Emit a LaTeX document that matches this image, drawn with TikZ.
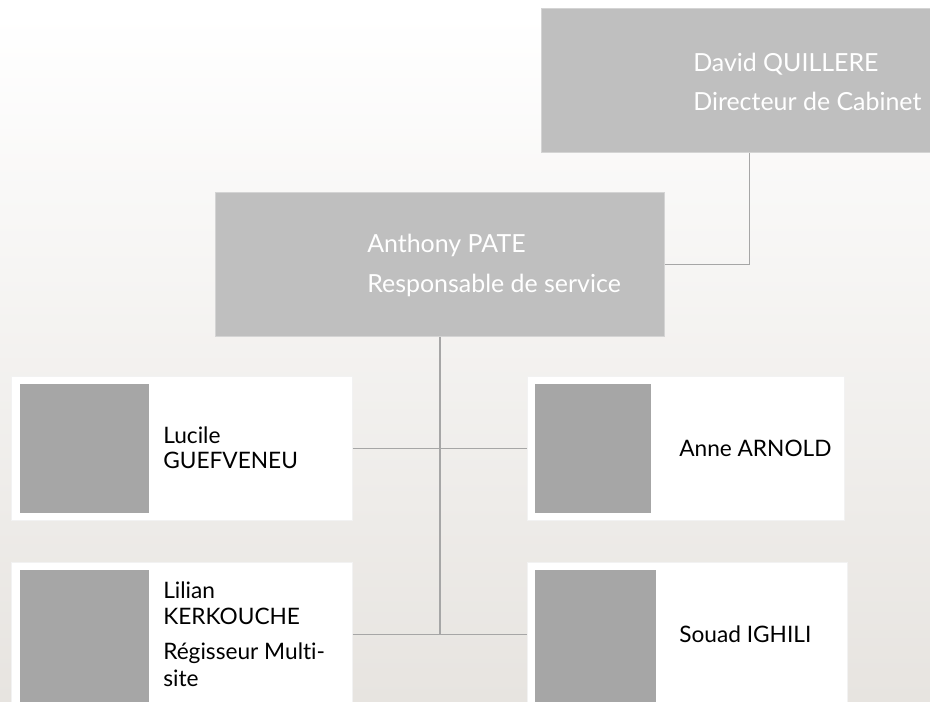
\documentclass[tikz,border=0pt]{standalone}
\usepackage{fontspec}
\setmainfont{Lato}[Ligatures={NoCommon}]
\definecolor{boxgray}{RGB}{191,191,191}
\definecolor{photogray}{RGB}{166,166,166}
\definecolor{linegray}{RGB}{166,166,166}
\definecolor{bgbottom}{RGB}{231,228,224}
\definecolor{edgegray}{RGB}{212,212,212}
\begin{document}
\begin{tikzpicture}[x=0.75pt,y=-0.75pt,
  headbox/.style={fill=boxgray,draw=edgegray,line width=0.6pt,anchor=north west,inner sep=0pt},
  card/.style={fill=white,draw=white!95!black,line width=0.4pt,anchor=north west,inner sep=0pt},
  photo/.style={fill=photogray,anchor=north west,inner sep=0pt},
  headtext/.style={anchor=west,text=white,font=\fontsize{18.7}{22}\selectfont,inner sep=0pt},
  nametext/.style={anchor=west,text=black,font=\fontsize{17}{20}\selectfont,inner sep=0pt},
  conn/.style={draw=linegray,line width=1.1pt}]
\useasboundingbox (0,0) rectangle (930,701);
\fill[white] (0,0) rectangle (930,14);
\shade[top color=white,bottom color=bgbottom] (0,14) rectangle (930,701);
% head boxes
\node[headbox,minimum width=416*0.75pt,minimum height=144*0.75pt] (dq) at (541,8) {};
\node[headbox,minimum width=449*0.75pt,minimum height=144*0.75pt] (ap) at (215,192) {};
\node[headtext] (dqn) at (693,64) {David QUILLERE};
\node[headtext] (dqr) at (693,101) {Directeur de Cabinet};
\node[headtext] (apn) at (367,245) {Anthony PATE};
\node[headtext] (apr) at (367,285) {Responsable de service};
% cards
\node[card,minimum width=341*0.75pt,minimum height=144*0.75pt] (lg) at (11,376) {};
\node[card,minimum width=317*0.75pt,minimum height=144*0.75pt] (aa) at (527,376) {};
\node[card,minimum width=341*0.75pt,minimum height=144*0.75pt] (lk) at (11,562) {};
\node[card,minimum width=320*0.75pt,minimum height=144*0.75pt] (si) at (527,562) {};
\node[photo,minimum width=129*0.75pt,minimum height=129*0.75pt] (lgp) at (20,384) {};
\node[photo,minimum width=116*0.75pt,minimum height=129*0.75pt] (aap) at (535,384) {};
\node[photo,minimum width=129*0.75pt,minimum height=140*0.75pt] (lkp) at (20,570) {};
\node[photo,minimum width=121*0.75pt,minimum height=140*0.75pt] (sip) at (535,570) {};
\node[nametext] (lg1) at (163,435) {Lucile};
\node[nametext] (lg2) at (163,460) {GUEFVENEU};
\node[nametext] (aan) at (679,448) {Anne ARNOLD};
\node[nametext] (lk1) at (163,590) {Lilian};
\node[nametext] (lk2) at (163,616) {KERKOUCHE};
\node[nametext] (lk3) at (163,653) {Régisseur Multi-};
\node[nametext] (lk4) at (163,678) {site};
\node[nametext] (sin) at (679,634) {Souad IGHILI};
% connectors
\draw[conn] (dq.south) |- (ap.east);
\draw[conn] (ap.south) -- (ap.south |- lk.east);
\draw[conn] (lg.east) -- (aa.west);
\draw[conn] (lk.east) -- (si.west);
\end{tikzpicture}
\end{document}
